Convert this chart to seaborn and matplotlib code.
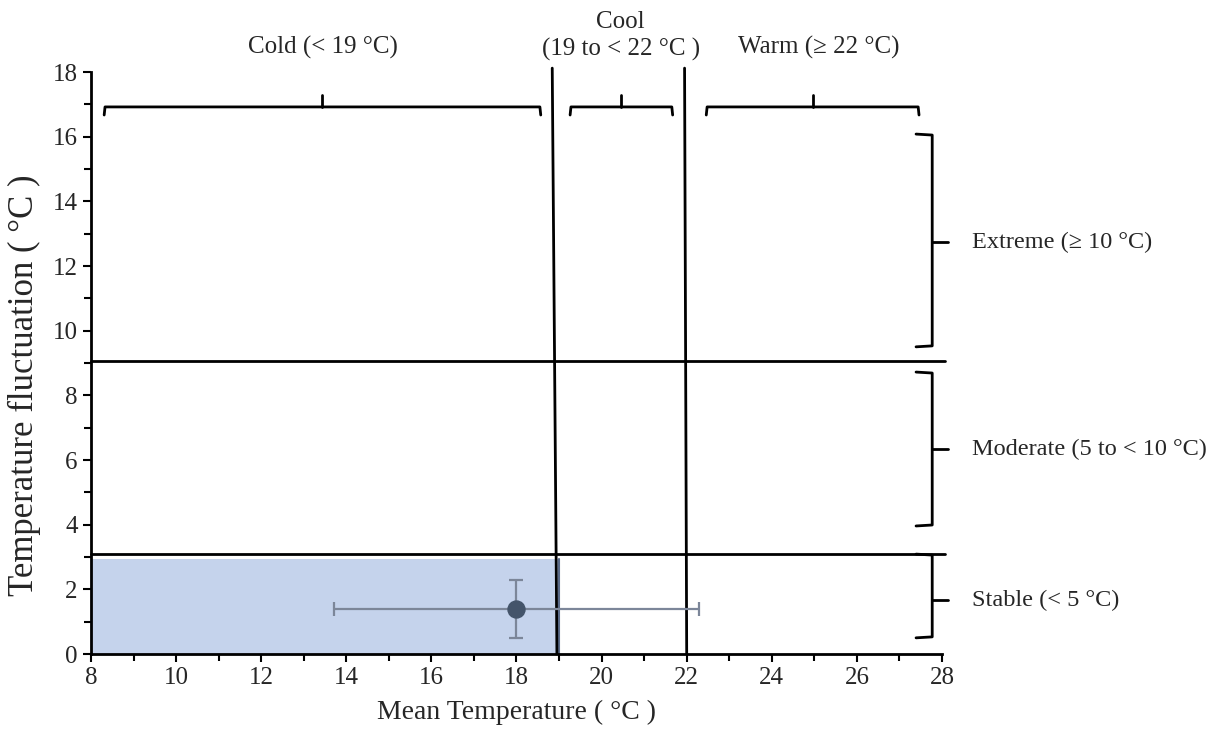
import matplotlib
matplotlib.use("Agg")
import matplotlib.pyplot as plt
from matplotlib.ticker import MultipleLocator
import seaborn as sns
import pandas as pd

# Observed site: mean temperature and daily fluctuation with ranges
mean_temp = [18.0]
fluctuation = [1.4]
mean_temp_range = [13.7, 22.3]
fluctuation_range = [0.5, 2.3]

# Category boundaries
cold_cool_boundary = 19.0
cool_warm_boundary = 22.0
extreme_boundary = 9.06
stable_boundary = 3.08

# Band labels
temp_labels = ["Cold (< 19 °C)", "Cool\n(19 to < 22 °C )", "Warm (≥ 22 °C)"]
temp_spans = [(8.33, 18.55), (19.28, 21.65), (22.48, 27.44)]
temp_label_pos = [(13.44, 18.76), (20.45, 19.12), (25.1, 18.76)]
fluct_labels = ["Extreme (≥ 10 °C)", "Moderate (5 to < 10 °C)", "Stable (< 5 °C)"]
fluct_spans = [(9.53, 16.05, 12.74), (3.99, 8.69, 6.34), (0.53, 3.06, 1.67)]

sns.set_style("ticks")
plt.rcParams["font.family"] = ["Liberation Serif", "DejaVu Serif"]

fig = plt.figure(figsize=(12.18, 7.4), dpi=100)
ax = fig.add_axes([0.0747, 0.1162, 0.6987, 0.7865])

df = pd.DataFrame({"mean": mean_temp, "fluct": fluctuation})

# Shaded "cold & stable" zone
ax.fill_between([8, cold_cool_boundary], 0, 2.95, color="#c5d3ec", zorder=1, lw=0)
ax.plot([cold_cool_boundary, cold_cool_boundary], [0, 2.95], color="#5a6a88", lw=1.5, zorder=2)

# Error bars
ax.errorbar(mean_temp, fluctuation,
            xerr=[[mean_temp[0] - mean_temp_range[0]], [mean_temp_range[1] - mean_temp[0]]],
            yerr=[[fluctuation[0] - fluctuation_range[0]], [fluctuation_range[1] - fluctuation[0]]],
            fmt="none", ecolor="#7c8699", elinewidth=1.6, capsize=5, capthick=1.6, zorder=4)
sns.scatterplot(data=df, x="mean", y="fluct", ax=ax, color="#44546a", s=150,
                edgecolor="#44546a", zorder=5, legend=False)

# Category boundary lines
ax.plot([18.84, 18.95], [18.12, 0], color="black", lw=2, clip_on=False, zorder=3)
ax.plot([21.95, cool_warm_boundary], [18.12, 0], color="black", lw=2,
        clip_on=False, zorder=3)
ax.plot([8, 28.07], [extreme_boundary, extreme_boundary], color="black", lw=2,
        clip_on=False, zorder=3)
ax.plot([8, 28.07], [stable_boundary, stable_boundary], color="black", lw=2,
        clip_on=False, zorder=3)

# Horizontal braces over temperature bands
by, hook, tip = 16.92, 0.25, 0.38
for (x0, x1) in temp_spans:
    xm = (x0 + x1) / 2
    ax.plot([x0 - 0.02, x0, x1, x1 + 0.02], [by - hook, by, by, by - hook],
            color="black", lw=2, clip_on=False, zorder=3)
    ax.plot([xm, xm], [by, by + tip], color="black", lw=2, clip_on=False, zorder=3)
for (xm, yy), lab in zip(temp_label_pos, temp_labels):
    ax.text(xm, yy, lab, ha="center", va="center", fontsize=18, linespacing=1.3,
            clip_on=False)

# Vertical braces beside fluctuation bands
bx, hx = 27.77, 0.38
for (y0, y1, ym), lab in zip(fluct_spans, fluct_labels):
    ax.plot([bx - hx, bx, bx, bx - hx], [y0 - 0.03, y0, y1, y1 + 0.03],
            color="black", lw=2, clip_on=False, zorder=3)
    ax.plot([bx, bx + 0.36], [ym, ym], color="black", lw=2, clip_on=False, zorder=3)
    ax.text(28.7, ym, lab, ha="left", va="center", fontsize=17.5, clip_on=False)

ax.set_xlim(8, 28)
ax.set_ylim(0, 18)
ax.xaxis.set_major_locator(MultipleLocator(2))
ax.xaxis.set_minor_locator(MultipleLocator(1))
ax.yaxis.set_major_locator(MultipleLocator(2))
ax.yaxis.set_minor_locator(MultipleLocator(1))
ax.tick_params(axis="both", which="major", length=6, width=1.5, labelsize=18, color="black")
ax.tick_params(axis="both", which="minor", length=5, width=1.5, color="black")
sns.despine(ax=ax)
for s in ["left", "bottom"]:
    ax.spines[s].set_linewidth(2)
    ax.spines[s].set_color("black")

ax.set_xlabel("Mean Temperature ( °C )", fontsize=20, labelpad=8)
ax.set_ylabel("Temperature fluctuation ( °C )", fontsize=25)
ax.yaxis.set_label_coords(-0.059, 0.462)

fig.savefig("out.png", dpi=100)
